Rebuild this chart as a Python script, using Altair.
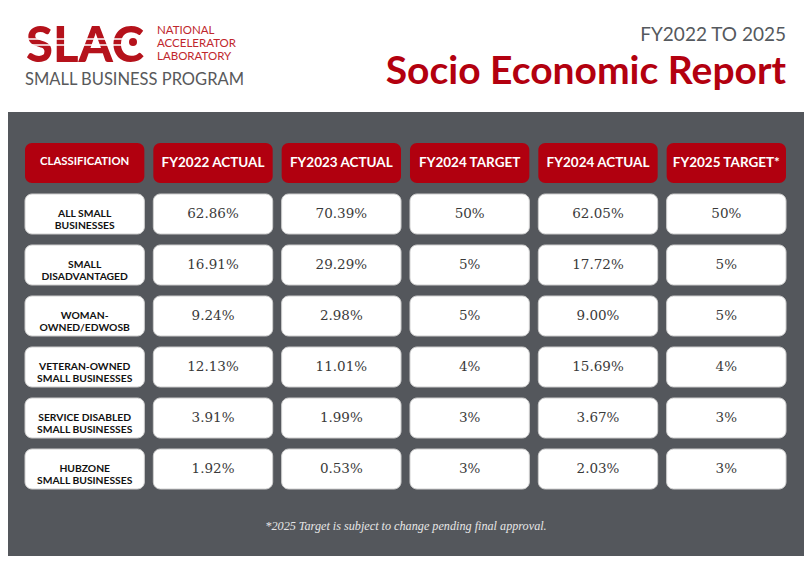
import altair as alt
import pandas as pd

# ---------------- data ----------------
columns = ["CLASSIFICATION", "FY2022 ACTUAL", "FY2023 ACTUAL", "FY2024 TARGET",
           "FY2024 ACTUAL", "FY2025 TARGET*"]
classifications = ["ALL SMALL\nBUSINESSES", "SMALL\nDISADVANTAGED", "WOMAN-\nOWNED/EDWOSB",
                   "VETERAN-OWNED\nSMALL BUSINESSES", "SERVICE DISABLED\nSMALL BUSINESSES",
                   "HUBZONE\nSMALL BUSINESSES"]
fy2022_actual = ["62.86%", "16.91%", "9.24%", "12.13%", "3.91%", "1.92%"]
fy2023_actual = ["70.39%", "29.29%", "2.98%", "11.01%", "1.99%", "0.53%"]
fy2024_target = ["50%", "5%", "5%", "4%", "3%", "3%"]
fy2024_actual = ["62.05%", "17.72%", "9.00%", "15.69%", "3.67%", "2.03%"]
fy2025_target = ["50%", "5%", "5%", "4%", "3%", "3%"]

subtitle = "FY2022 TO 2025"
title = "Socio Economic Report"
logo_word = "SLAC"
logo_lab = "NATIONAL\nACCELERATOR\nLABORATORY"
program = "SMALL BUSINESS PROGRAM"
footnote = "*2025 Target is subject to change pending final approval."

# ---------------- table ----------------
row_keys = ["h"] + [f"r{i}" for i in range(len(classifications))]
records = []
for c in columns:
    records.append({"row": "h", "col": c, "txt": c, "kind": "header"})
series = [fy2022_actual, fy2023_actual, fy2024_target, fy2024_actual, fy2025_target]
for i, lab in enumerate(classifications):
    records.append({"row": f"r{i}", "col": columns[0], "txt": lab, "kind": "label"})
    for c, s in zip(columns[1:], series):
        records.append({"row": f"r{i}", "col": c, "txt": s[i], "kind": "value"})
df = pd.DataFrame(records)

RED = "#b1000f"
GREY = "#54575c"

x_enc = alt.X("col:N", scale=alt.Scale(domain=columns, range=[17, 778],
                                       paddingInner=0.07, paddingOuter=0), axis=None)
y_enc = alt.Y("row:N", scale=alt.Scale(domain=row_keys, range=[31, 377],
                                       paddingInner=0.216, paddingOuter=0), axis=None)

base = alt.Chart(df).encode(x=x_enc, y=y_enc)

head_rect = base.transform_filter(alt.datum.kind == "header").mark_rect(
    fill=RED, cornerRadius=7)
body_rect = base.transform_filter(alt.datum.kind != "header").mark_rect(
    fill="white", stroke="#cfcfcf", strokeWidth=1, cornerRadius=7)
head_txt = base.transform_filter(
    (alt.datum.kind == "header") & (alt.datum.col != "CLASSIFICATION")).mark_text(
    font="Lato", fontWeight="bold", fontSize=13.5, color="white", baseline="middle"
).encode(text="txt:N")
class_txt = base.transform_filter(
    (alt.datum.kind == "header") & (alt.datum.col == "CLASSIFICATION")).mark_text(
    font="Lato", fontWeight="bold", fontSize=11.3, color="white", baseline="middle", dy=-1
).encode(text="txt:N")
label_txt = base.transform_filter(alt.datum.kind == "label").mark_text(
    font="Lato", fontWeight="bold", fontSize=10.3, color="#111111", baseline="middle",
    lineBreak="\n", lineHeight=12
).encode(text="txt:N")
value_txt = base.transform_filter(alt.datum.kind == "value").mark_text(
    font="DejaVu Serif", fontSize=13.5, color="#3a3a3a", baseline="middle"
).encode(text="txt:N")

one = pd.DataFrame({"k": [0]})
foot_txt = alt.Chart(one).mark_text(
    font="Liberation Serif", fontStyle="italic", fontSize=12.2, color="#e6e6e6",
    align="center", baseline="alphabetic"
).encode(x=alt.value(398), y=alt.value(418), text=alt.value(footnote))

table = alt.layer(head_rect, body_rect, head_txt, class_txt, label_txt, value_txt,
                  foot_txt).properties(
    width=796, height=444,
    view=alt.ViewBackground(fill=GREY, stroke=None))

# ---------------- header ----------------
t_sub = alt.Chart(one).mark_text(
    font="Lato", fontSize=19, color="#55595e", align="right", baseline="alphabetic"
).encode(x=alt.value(778), y=alt.value(33), text=alt.value(subtitle))
t_title = alt.Chart(one).mark_text(
    font="Lato", fontWeight="bold", fontSize=39, color="#b3000f", align="right",
    baseline="alphabetic"
).encode(x=alt.value(778), y=alt.value(76), text=alt.value(title))
t_logo = alt.Chart(one).mark_text(
    font="Lato", fontWeight=900, fontSize=49, color="#b5121b", align="left",
    baseline="alphabetic"
).encode(x=alt.value(18), y=alt.value(54), text=alt.value(logo_word))
stripe1 = alt.Chart(one).mark_rule(color="white", strokeWidth=1.6).encode(
    x=alt.value(18), x2=alt.value(118), y=alt.value(31))
stripe2 = alt.Chart(one).mark_rule(color="white", strokeWidth=1.6).encode(
    x=alt.value(18), x2=alt.value(118), y=alt.value(37))
dot = alt.Chart(one).mark_point(filled=True, color="#b5121b", opacity=1, size=64).encode(
    x=alt.value(125), y=alt.value(34))
t_lab = alt.Chart(one).mark_text(
    font="Lato", fontSize=11.5, color="#c0272d", align="left", baseline="alphabetic",
    lineBreak="\n", lineHeight=13
).encode(x=alt.value(149), y=alt.value(25.5), text=alt.value(logo_lab))
t_prog = alt.Chart(one).mark_text(
    font="Lato", fontSize=16.5, color="#58595b", align="left", baseline="alphabetic"
).encode(x=alt.value(17), y=alt.value(77), text=alt.value(program))

header = alt.layer(t_sub, t_title, t_logo, stripe1, stripe2, dot, t_lab, t_prog).properties(
    width=796, height=104,
    view=alt.ViewBackground(fill="white", stroke=None))

chart = alt.vconcat(header, table, spacing=0).properties(
    padding=0, background="white", bounds="flush"
).configure_view(stroke=None)

chart.save("out.html", embed_options={"renderer": "svg", "actions": False})
